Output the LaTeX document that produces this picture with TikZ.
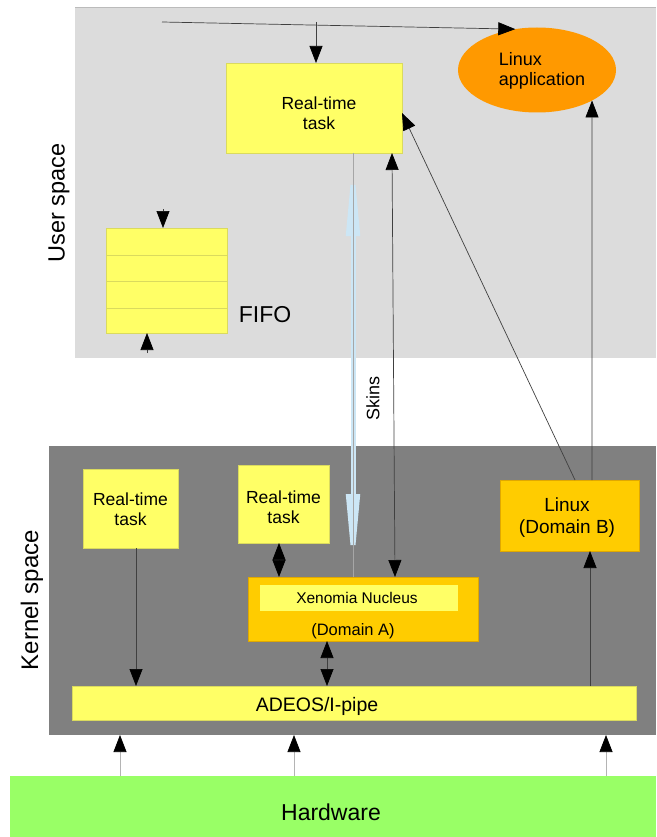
\documentclass[tikz,border=0pt]{standalone}
\usepackage{fontspec}
\setmainfont{Liberation Sans}
\usetikzlibrary{arrows.meta,shapes.geometric}
\definecolor{ubg}{HTML}{DCDCDC}
\definecolor{kbg}{HTML}{808080}
\definecolor{yel}{HTML}{FFFF66}
\definecolor{yeledge}{HTML}{DADA5E}
\definecolor{gold}{HTML}{FFCC00}
\definecolor{goldedge}{HTML}{E0A800}
\definecolor{orng}{HTML}{FF9900}
\definecolor{grn}{HTML}{99FF66}
\definecolor{sky}{HTML}{CCE6F5}
\definecolor{ln}{HTML}{404040}
\definecolor{lnl}{HTML}{B4B4B4}
\begin{document}
\begin{tikzpicture}[x=1pt,y=-1pt,
  myhd/.tip={Triangle[length=17pt,width=13pt,color=black]},
  bighd/.tip={Triangle[length=83pt,width=13pt,color=sky]},
  rect/.style={rectangle,inner sep=0pt,outer sep=0pt},
  ybox/.style={rect,fill=yel,draw=yeledge,line width=0.6pt},
  gbox/.style={rect,fill=gold,draw=goldedge,line width=0.6pt},
  txt/.style={inner sep=0pt,align=center,font=\fontsize{17.5}{20}\selectfont},
  arr/.style={draw=ln,line width=0.7pt,-myhd},
  darr/.style={draw=ln,line width=0.7pt,myhd-myhd},
  hwarr/.style={draw=lnl,line width=0.7pt,-myhd},
  vlabel/.style={rotate=90,inner sep=0pt}]
\useasboundingbox (0,0) rectangle (656,837);
% regions
\node[rect,fill=ubg,minimum width=581pt,minimum height=351pt] (user) at (365.5,182.5) {};
\draw[ubg!85!black,line width=0.5pt] (user.north west) -- (user.north east);
\node[rect,fill=kbg,minimum width=607pt,minimum height=289pt] (kern) at (352.5,590.5) {};
\node[rect,fill=grn,minimum width=646pt,minimum height=61pt] (hw) at (333,806.5) {};
\node[txt,font=\fontsize{23}{26}\selectfont] (hwT) at (331,812) {Hardware};
\node[vlabel,font=\fontsize{23.5}{26}\selectfont] (userT) at (59,203) {User space};
\node[vlabel,font=\fontsize{24}{26}\selectfont] (kernT) at (32,600) {Kernel space};
% user space
\node[ybox,minimum width=176pt,minimum height=90pt] (urt) at (314,108) {};
\node[txt] (urtT) at (319,113) {Real-time\\task};
\node[ellipse,fill=orng,minimum width=158pt,minimum height=85pt,inner sep=0pt,outer sep=0pt] (lapp) at (537,70) {};
\node[txt,align=left,font=\fontsize{18}{20}\selectfont] (lappT) at (542,71) {Linux\\application};
\node[ybox,minimum width=121pt,minimum height=105pt] (fifo) at (166.5,280.5) {};
\foreach \yy in {255,281,308} \draw[yeledge,line width=0.6pt] (106,\yy) -- (227,\yy);
\node[inner sep=0pt,font=\fontsize{23}{26}\selectfont] (fifoT) at (265,315) {FIFO};
% kernel space
\node[ybox,minimum width=95pt,minimum height=79pt] (krt1) at (130.5,508.5) {};
\node[txt] (krt1T) at (130.5,509) {Real-time\\task};
\node[ybox,minimum width=91pt,minimum height=78pt] (krt2) at (283.5,504) {};
\node[txt] (krt2T) at (283.5,507) {Real-time\\task};
\node[gbox,minimum width=139pt,minimum height=71pt] (linuxB) at (569.5,515.5) {};
\node[txt,font=\fontsize{19}{22}\selectfont] (linuxBT) at (567,518) {Linux\\(Domain B)};
\node[gbox,minimum width=230pt,minimum height=64pt] (xeno) at (363,609) {};
\node[rect,fill=yel,minimum width=198pt,minimum height=26pt] (xenoI) at (359,598) {};
\node[inner sep=0pt,font=\fontsize{15.5}{18}\selectfont] (xenoT) at (357,598) {Xenomia Nucleus};
\node[inner sep=0pt,font=\fontsize{16.5}{18}\selectfont] (domAT) at (353,631) {(Domain A)};
\node[ybox,minimum width=564pt,minimum height=34pt] (adeos) at (354,703) {};
\node[inner sep=0pt,font=\fontsize{19.5}{22}\selectfont] (adeosT) at (317,706) {ADEOS/I-pipe};
\node[vlabel,font=\fontsize{18}{20}\selectfont] (skinsT) at (373,398) {Skins};
% helper coordinates
\coordinate (tl) at (162,22);
\coordinate (tb) at (316,22);
\coordinate (ft) at (163,209);
\coordinate (fb) at (147,353);
\coordinate (bA) at (353,0);
\coordinate (kA) at (136,0);
\coordinate (dA) at (279,0);
\coordinate (xA) at (327,0);
\coordinate (rA) at (590,0);
\coordinate (h1) at (120,0);
\coordinate (h2) at (294,0);
\coordinate (h3) at (606,0);
% connectors
\draw[arr] (tl) -- (lapp.118);
\draw[arr] (tb) -- (tb |- urt.north);
\draw[arr] (ft) -- (ft |- fifo.north);
\draw[arr] (fb) -- (fb |- fifo.south);
\draw[line width=5pt,sky,bighd-bighd] (urt.south -| bA) -- (xeno.north -| bA);
\draw[gray!70,line width=0.4pt] (urt.south -| bA) -- (xeno.north -| bA);
\draw[darr] ([xshift=78pt]urt.south) -- ([xshift=32pt]xeno.north);
\draw[arr] ([xshift=75pt]linuxB.north west) -- ([yshift=-5pt]urt.east);
\draw[arr] ([xshift=22.5pt]linuxB.north) -- (lapp.-29);
\draw[arr] (adeos.north -| rA) -- (linuxB.south -| rA);
\draw[arr] (krt1.south -| kA) -- (adeos.north -| kA);
\draw[darr] (krt2.south -| dA) -- (xeno.north -| dA);
\draw[darr] (xeno.south -| xA) -- (adeos.north -| xA);
\draw[hwarr] (hw.north -| h1) -- (kern.south -| h1);
\draw[hwarr] (hw.north -| h2) -- (kern.south -| h2);
\draw[hwarr] (hw.north -| h3) -- (kern.south -| h3);
\end{tikzpicture}
\end{document}
